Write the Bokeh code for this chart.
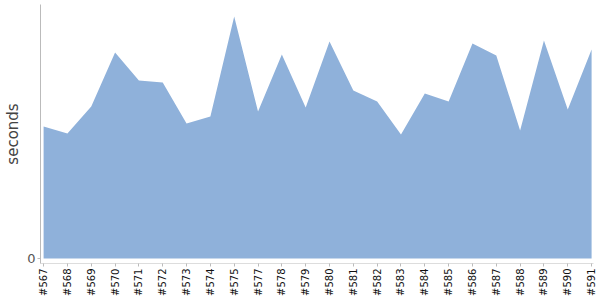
import math
from bokeh.plotting import figure
from bokeh.models import FixedTicker, Range1d
from bokeh.embed import file_html
from bokeh.resources import INLINE

builds = ["#567", "#568", "#569", "#570", "#571", "#572", "#573", "#574", "#575",
          "#577", "#578", "#579", "#580", "#581", "#582", "#583", "#584", "#585",
          "#586", "#587", "#588", "#589", "#590", "#591"]
seconds = [132, 125, 152, 206, 178, 176, 135, 142, 242, 147, 204, 151,
           217, 168, 157, 124, 165, 157, 215, 203, 128, 218, 149, 209]

xs = list(range(len(builds)))

p = figure(width=600, height=300, output_backend="svg", toolbar_location=None,
           x_range=Range1d(-0.13, len(builds) - 1 + 0.08),
           y_range=Range1d(-5, 254),
           min_border_left=40, min_border_right=7, min_border_top=4, min_border_bottom=37)

p.varea(x=xs, y1=[0] * len(xs), y2=seconds, fill_color="#8FB1DA", fill_alpha=1.0)

p.xgrid.visible = False
p.ygrid.visible = False
p.outline_line_color = None
p.background_fill_color = "white"
p.border_fill_color = "white"

p.xaxis.ticker = FixedTicker(ticks=xs)
p.xaxis.major_label_overrides = {i: b for i, b in enumerate(builds)}
p.xaxis.major_label_orientation = math.pi / 2
p.xaxis.major_label_text_font = "DejaVu Sans"
p.xaxis.major_label_text_font_size = "10px"
p.xaxis.major_label_text_color = "#111111"
p.xaxis.axis_line_color = "#dddddd"
p.xaxis.major_tick_line_color = "#bbbbbb"
p.xaxis.major_tick_out = 3
p.xaxis.major_tick_in = 0
p.xaxis.minor_tick_line_color = None
p.xaxis.major_label_standoff = 2

p.yaxis.ticker = FixedTicker(ticks=[0])
p.yaxis.axis_label = "seconds"
p.yaxis.axis_label_text_font = "DejaVu Sans"
p.yaxis.axis_label_text_font_size = "15px"
p.yaxis.axis_label_text_font_style = "normal"
p.yaxis.axis_label_text_color = "#444444"
p.yaxis.axis_label_standoff = 2
p.yaxis.major_label_text_font = "DejaVu Sans"
p.yaxis.major_label_text_font_size = "13px"
p.yaxis.major_label_text_color = "#555555"
p.yaxis.axis_line_color = "#bbbbbb"
p.yaxis.major_tick_line_color = "#bbbbbb"
p.yaxis.major_tick_out = 3
p.yaxis.major_tick_in = 0
p.yaxis.minor_tick_line_color = None
p.yaxis.major_label_standoff = 2

open("out.html", "w").write(file_html(p, INLINE))
